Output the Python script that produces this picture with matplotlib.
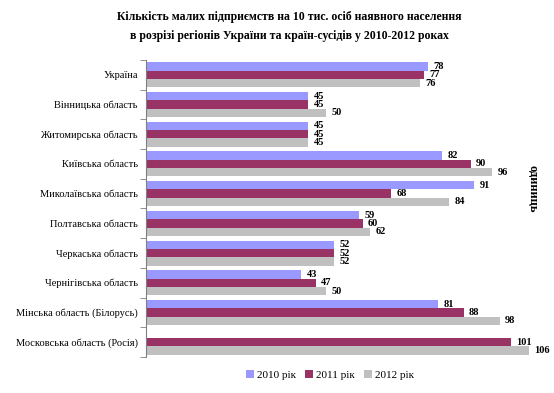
import numpy as np
import matplotlib.pyplot as plt

plt.rcParams['font.family'] = ['Liberation Serif', 'DejaVu Serif']

regions = ['Україна', 'Вінницька область', 'Житомирська область', 'Київська область',
           'Миколаївська область', 'Полтавська область', 'Черкаська область',
           'Чернігівська область', 'Мінська область (Білорусь)', 'Московська область (Росія)']
v2010 = [78, 45, 45, 82, 91, 59, 52, 43, 81, None]
v2011 = [77, 45, 45, 90, 68, 60, 52, 47, 88, 101]
v2012 = [76, 50, 45, 96, 84, 62, 52, 50, 98, 106]
series = ['2010 рік', '2011 рік', '2012 рік']
colors = ['#9999FF', '#993366', '#C0C0C0']

fig = plt.figure(figsize=(5.54, 3.93), dpi=100)
ax = fig.add_axes([146 / 554, 1 - 357 / 393, (543 - 146) / 554, (357 - 60) / 393])

y = np.arange(len(regions))
h = 0.28
for i, (vals, lab, c) in enumerate(zip([v2010, v2011, v2012], series, colors)):
    pos = y + (i - 1) * h
    w = [v if v is not None else 0 for v in vals]
    ax.barh(pos, w, height=h, color=c, label=lab)
    for p, v in zip(pos, vals):
        if v is not None:
            ax.text(v + 1.5, p, str(v), va='center', ha='left', fontsize=7.5, fontweight='bold')

ax.set_xlim(0, 110)
ax.set_ylim(len(regions) - 0.5, -0.5)
ax.set_yticks(y)
ax.set_yticklabels(regions, fontsize=7.5)
ax.set_yticks(np.arange(len(regions) + 1) - 0.5, minor=True)
ax.tick_params(axis='y', which='major', length=0, pad=6)
ax.tick_params(axis='y', which='minor', length=4, color='#808080')
ax.set_xticks([])
for s in ['top', 'right', 'bottom']:
    ax.spines[s].set_visible(False)
ax.spines['left'].set_color('#808080')

fig.text(0.523, 0.933, 'Кількість малих підприємств на 10 тис. осіб наявного населення\n'
         'в розрізі регіонів України та країн-сусідів у 2010-2012 роках',
         ha='center', va='center', fontsize=8.5, fontweight='bold', linespacing=1.8)
fig.text(0.962, 0.52, 'одиниць', rotation=-90, ha='center', va='center',
         fontsize=9, fontweight='bold')

fig.legend(loc='center', bbox_to_anchor=(0.596, 0.046), ncol=3, frameon=False,
           fontsize=8, handlelength=0.7, handleheight=0.7, handletextpad=0.3,
           columnspacing=0.8)

fig.savefig('out.png', dpi=100)
